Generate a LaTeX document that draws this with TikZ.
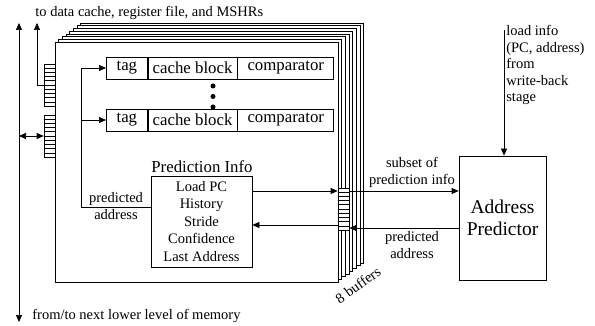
\documentclass[tikz,border=0pt]{standalone}
\usepackage{fontspec}
\setmainfont{Liberation Serif}
\usetikzlibrary{arrows.meta,calc}
\begin{document}
\begin{tikzpicture}[x=1pt,y=-1pt,
  line width=0.7pt,
  >={Triangle[length=7pt,width=6pt]},
  txt/.style={font=\fontsize{14.5}{17}\selectfont, inner sep=0pt, align=center},
  cell/.style={draw, fill=white, minimum height=22pt, inner sep=0pt,
    font=\fontsize{16.8}{19}\selectfont, anchor=west},
  reg/.style={draw, fill=white, minimum width=11pt, minimum height=42pt, inner sep=0pt},
  bufbox/.style={draw, fill=white, minimum width=283pt, minimum height=240pt, inner sep=0pt},
  dot/.style={circle, fill, inner sep=0pt, minimum size=5pt}
]
\useasboundingbox (0,0) rectangle (595,326);

% seven buffers stacked behind the front one
\foreach \k in {7,6,...,1}
  \draw[fill=white] ({55+3.65*\k},{42-2.7*\k}) rectangle ({338+3.65*\k},{282-2.7*\k});
\node[bufbox] (buf) at (196.5,162) {};

% cache block entries
\node[cell, minimum width=41pt] (tag1) at (106,68) {tag};
\node[cell, minimum width=89pt] (cb1) at (tag1.east) {cache block};
\node[cell, minimum width=96pt] (cmp1) at (cb1.east) {comparator};
\node[cell, minimum width=41pt] (tag2) at (106,120) {tag};
\node[cell, minimum width=89pt] (cb2) at (tag2.east) {cache block};
\node[cell, minimum width=96pt] (cmp2) at (cb2.east) {comparator};
\node[dot] (d1) at (213,86) {};
\node[dot] (d2) at (213,96.5) {};
\node[dot] (d3) at (213,107) {};

% prediction info
\node[txt, font=\fontsize{16.8}{19}\selectfont] (pihead) at (202,167) {Prediction Info};
\node[draw, fill=white, minimum width=101pt, minimum height=91pt, inner sep=0pt,
  align=center, font=\fontsize{14.5}{17.5}\selectfont] (pred) at (201.5,221.5)
  {Load PC\\History\\Stride\\Confidence\\Last Address};

% registers
\node[reg] (regL1) at (49.5,85) {};
\node[reg] (regL2) at (49.5,136) {};
\node[reg] (regR) at (343.5,209) {};
\foreach \r in {regL1,regL2,regR}
  \foreach \i in {1,...,9}
    \draw ($(\r.north west)!\i/10!(\r.south west)$) -- ($(\r.north east)!\i/10!(\r.south east)$);

% address predictor
\node[draw, minimum width=87pt, minimum height=124pt, inner sep=0pt, align=center,
  font=\fontsize{19.5}{22}\selectfont] (apred) at (502.5,218) {Address\\Predictor};

% free ends
\coordinate (memT) at (19,23);
\coordinate (memB) at (19,322);
\coordinate (upA) at (37,23);
\coordinate (fb) at (81,68);
\coordinate (li) at (504,30);

% connectors
\draw[<->] (memT) -- (memB);
\draw[<->] (memT |- regL2.west) -- (regL2.west);
\draw[->] (regL1.west) -| (upA);
\draw[->] (pred.west |- 0,207) -| (fb) -- (tag1.west);
\draw[->] (tag2.west -| fb) -- (tag2.west);
\draw[->] (pred.east |- 0,191) -- (regR.west |- 0,191);
\draw[->] (regR.east |- 0,191) -- (apred.west |- 0,191);
\draw[->] (apred.west |- 0,228) -- (regR.east |- 0,228);
\draw[->] (regR.west |- 0,225) -- (pred.east |- 0,225);
\draw[->] (li) -- (li |- apred.north);

% labels
\node[txt, anchor=west] (ltop) at (35,13) {to data cache, register file, and MSHRs};
\node[txt, anchor=west] (lbot) at (32,316) {from/to next lower level of memory};
\node[txt] (lpa) at (116,206.5) {predicted\\address};
\node[txt] (lsub) at (412,172.5) {subset of\\prediction info};
\node[txt] (lpa2) at (412,245.5) {predicted\\address};
\node[txt, align=left, anchor=north west, font=\fontsize{14.5}{16.5}\selectfont] (lli) at (506,25)
  {load info\\(PC, address)\\from\\write-back\\stage};
\node[txt, rotate=35.6] (l8) at (358,285) {8 buffers};
\end{tikzpicture}
\end{document}
